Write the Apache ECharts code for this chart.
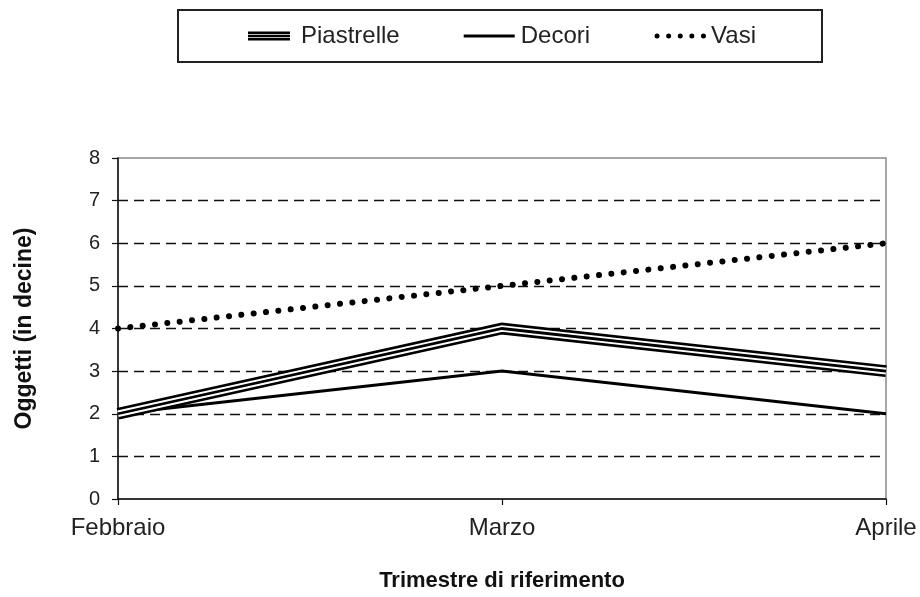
<!DOCTYPE html>
<html>
<head>
<meta charset="utf-8">
<script src="https://cdn.jsdelivr.net/npm/echarts@6/dist/echarts.min.js"></script>
<style>
html,body{margin:0;padding:0;background:#fff;}
#c{width:920px;height:597px;}
</style>
</head>
<body>
<div id="c"></div>
<script>
const categories = ['Febbraio', 'Marzo', 'Aprile'];
const piastrelle = [2, 4, 3];
const decori = [2, 3, 2];
const vasi = [4, 5, 6];
const yTicks = [0, 1, 2, 3, 4, 5, 6, 7, 8];

const FONT = 'Arial, "Liberation Sans", sans-serif';
const chart = echarts.init(document.getElementById('c'), null, {renderer: 'canvas'});

// invisible corner markers keep every legend icon on the same 52x10 box
const corners = 'M0,0H0.01V0.01H0Z M51.99,9.99H52V10H51.99Z ';
const tripleIcon = 'path://' + corners + 'M4,0.6H46V3H4Z M4,3.8H46V6.2H4Z M4,7H46V9.4H4Z';
const lineIcon = 'path://' + corners + 'M0,3.6H51V6.4H0Z';
let dots = 'path://' + corners;
for (let i = 0; i < 5; i++) {
  const cx = 3 + i * 11.6;
  dots += ' M' + (cx - 2.5) + ',5 a2.5,2.5 0 1,0 5,0 a2.5,2.5 0 1,0 -5,0 Z';
}

chart.setOption({
  animation: false,
  backgroundColor: '#fff',
  textStyle: {fontFamily: FONT},
  graphic: [{
    type: 'rect',
    shape: {x: 178, y: 10, width: 644, height: 52},
    style: {fill: 'none', stroke: '#222', lineWidth: 2},
    z: 0
  }],
  legend: {
    left: 244,
    top: 24,
    padding: 0,
    itemWidth: 52,
    itemHeight: 10,
    itemGap: 64,
    symbolKeepAspect: false,
    textStyle: {fontSize: 24, color: '#222', fontFamily: FONT},
    data: [
      {name: 'Piastrelle', icon: tripleIcon},
      {name: 'Decori', icon: lineIcon},
      {name: 'Vasi', icon: dots}
    ]
  },
  grid: {
    left: 118, right: 34, top: 158, bottom: 97,
    show: true, borderColor: '#8a8a8a', borderWidth: 1.5, backgroundColor: 'transparent'
  },
  xAxis: {
    type: 'category',
    data: categories,
    boundaryGap: false,
    name: 'Trimestre di riferimento',
    nameLocation: 'middle',
    nameGap: 71,
    nameTextStyle: {fontSize: 22, fontWeight: 'bold', color: '#111', fontFamily: FONT},
    axisLine: {lineStyle: {color: '#111', width: 1.5}},
    axisTick: {show: true, length: 6, lineStyle: {color: '#111', width: 1.2}},
    axisLabel: {fontSize: 24, color: '#222', margin: 17, fontFamily: FONT},
    splitLine: {show: false}
  },
  yAxis: {
    type: 'value',
    min: 0, max: 8, interval: 1,
    name: 'Oggetti (in decine)',
    nameLocation: 'middle',
    nameGap: 82,
    nameTextStyle: {fontSize: 23, fontWeight: 'bold', color: '#111', fontFamily: FONT},
    axisLine: {show: true, lineStyle: {color: '#111', width: 1.5}},
    axisTick: {show: true, length: 6, lineStyle: {color: '#111', width: 1.2}},
    axisLabel: {fontSize: 20, color: '#222', margin: 18, fontFamily: FONT,
      formatter: function (v) { return yTicks.indexOf(v) >= 0 ? String(v) : ''; }},
    splitLine: {show: true, showMinLine: false, showMaxLine: false,
      lineStyle: {color: '#111', width: 1.3, type: [10, 6]}}
  },
  series: [
    {
      name: 'Decori', type: 'line', data: decori, symbol: 'none', z: 3,
      color: '#000',
      lineStyle: {color: '#000', width: 3, join: 'miter'}
    },
    {
      name: 'Piastrelle', type: 'line', data: piastrelle, symbol: 'none', z: 4,
      color: '#000',
      lineStyle: {color: '#000', width: 12, join: 'miter'}
    },
    {
      name: 'Piastrelle_w', type: 'line', data: piastrelle, symbol: 'none', z: 5,
      color: '#fff', silent: true,
      lineStyle: {color: '#fff', width: 6.6, join: 'miter'}
    },
    {
      name: 'Piastrelle_c', type: 'line', data: piastrelle, symbol: 'none', z: 6,
      color: '#000', silent: true,
      lineStyle: {color: '#000', width: 2.8, join: 'miter'}
    },
    {
      name: 'Vasi', type: 'line', data: vasi, symbol: 'none', z: 3,
      color: '#000',
      lineStyle: {color: '#000', width: 6, type: [0.01, 12.4], cap: 'round'}
    }
  ]
});
</script>
</body>
</html>
